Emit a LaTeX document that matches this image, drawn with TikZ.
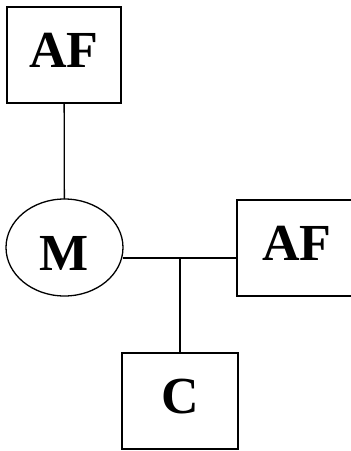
\documentclass[tikz,border=0pt]{standalone}
\usepackage{fontspec}
\setmainfont{Liberation Serif}
\usetikzlibrary{shapes.geometric}
\begin{document}
\begin{tikzpicture}[x=1pt, y=-1pt,
  link/.style={line width=1.3pt},
  label/.style={font=\fontsize{52}{52}\selectfont\bfseries, inner sep=0pt, outer sep=0pt},
  unitbox/.style={label, draw, line width=1.3pt, rectangle, text height=35pt, text depth=9.6pt},
  motor/.style={label, draw, line width=1.3pt, ellipse, text height=45.4pt, text depth=0pt}]
  \useasboundingbox (0,0) rectangle (351,451);
  \clip (0,0) rectangle (351,451);

  % blocks
  \node[unitbox, minimum width=114pt, minimum height=96pt] (af1) at (64,55) {AF};
  \node[motor, minimum width=117pt, minimum height=97pt] (m) at (64.5,247.5) {M};
  \node[unitbox, minimum width=120pt, minimum height=96pt] (af2) at (297,248) {AF};
  \node[unitbox, minimum width=116pt, minimum height=96pt] (c) at (180,401) {C};

  % junction on the horizontal link
  \coordinate (j) at (180,258);

  % connectors
  \draw[link] (af1) -- (m);
  \draw[link] (j -| m.east) -- (j -| af2.west);
  \draw[link] (j) -- (c);
\end{tikzpicture}
\end{document}
